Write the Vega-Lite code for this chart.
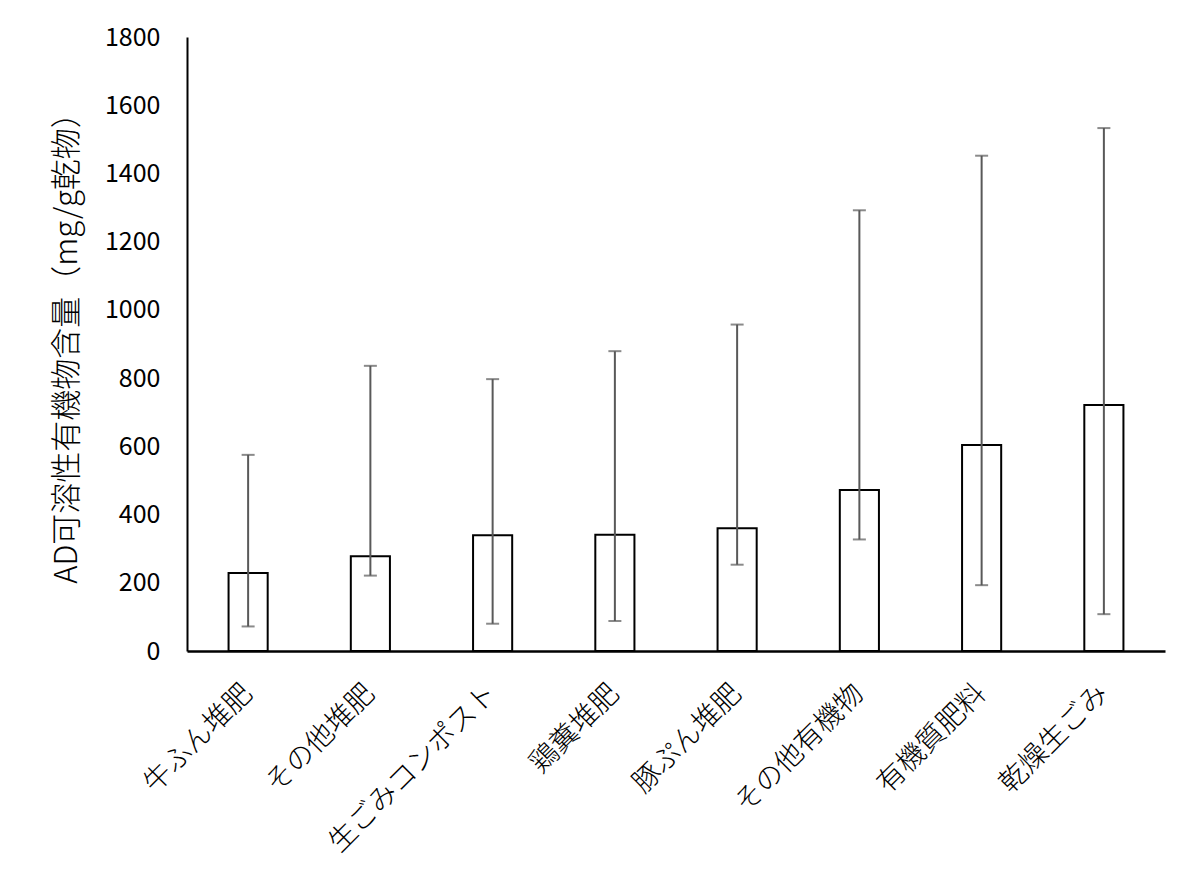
{
  "$schema": "https://vega.github.io/schema/vega-lite/v6.json",
  "autosize": {"type": "none"},
  "padding": {"left": 187, "top": 37, "right": 35, "bottom": 236},
  "width": 978,
  "height": 614,
  "background": "white",
  "data": {
    "values": [
      {"category": "牛ふん堆肥", "mean": 229, "low": 72, "high": 575},
      {"category": "その他堆肥", "mean": 278, "low": 221, "high": 836},
      {"category": "生ごみコンポスト", "mean": 339, "low": 80, "high": 797},
      {"category": "鶏糞堆肥", "mean": 341, "low": 88, "high": 879},
      {"category": "豚ぷん堆肥", "mean": 360, "low": 253, "high": 957},
      {"category": "その他有機物", "mean": 472, "low": 327, "high": 1292},
      {"category": "有機質肥料", "mean": 604, "low": 193, "high": 1452},
      {"category": "乾燥生ごみ", "mean": 721, "low": 108, "high": 1533}
    ]
  },
  "encoding": {
    "x": {
      "field": "category",
      "type": "nominal",
      "sort": null,
      "title": null,
      "scale": {"paddingInner": 0.68, "paddingOuter": 0.34},
      "axis": {
        "labelAngle": -45,
        "labelAlign": "right",
        "labelBaseline": "middle",
        "labelPadding": 38,
        "labelLimit": 400,
        "labelFontSize": 28,
        "labelFont": "Noto Sans CJK JP",
        "labelFontWeight": 300,
        "labelColor": "black",
        "ticks": false,
        "domainColor": "black",
        "domainWidth": 2.5
      }
    }
  },
  "layer": [
    {
      "mark": {"type": "bar", "fill": "white", "stroke": "black", "strokeWidth": 2},
      "encoding": {
        "y": {
          "field": "mean",
          "type": "quantitative",
          "scale": {"domain": [0, 1800], "nice": false},
          "title": "AD可溶性有機物含量（mg/g乾物）",
          "axis": {
            "values": [0, 200, 400, 600, 800, 1000, 1200, 1400, 1600, 1800],
            "format": "d",
            "grid": false,
            "ticks": false,
            "labelPadding": 27,
            "labelFontSize": 25,
            "labelFont": "Noto Sans CJK JP",
            "labelColor": "black",
            "domainColor": "black",
            "domainWidth": 2,
            "titleFont": "Noto Sans CJK JP",
            "titleFontSize": 31,
            "titleFontWeight": 300,
            "titleColor": "black",
            "titleAngle": -90,
            "titleAlign": "center",
            "titleBaseline": "middle",
            "titleX": -120,
            "titleY": 303
          }
        }
      }
    },
    {
      "mark": {"type": "rule", "color": "#595959", "strokeWidth": 2},
      "encoding": {
        "y": {"field": "low", "type": "quantitative"},
        "y2": {"field": "high"}
      }
    },
    {
      "mark": {"type": "tick", "color": "#595959", "thickness": 2, "size": 13},
      "encoding": {"y": {"field": "low", "type": "quantitative"}}
    },
    {
      "mark": {"type": "tick", "color": "#595959", "thickness": 2, "size": 13},
      "encoding": {"y": {"field": "high", "type": "quantitative"}}
    }
  ],
  "config": {
    "view": {"stroke": null}
  }
}
